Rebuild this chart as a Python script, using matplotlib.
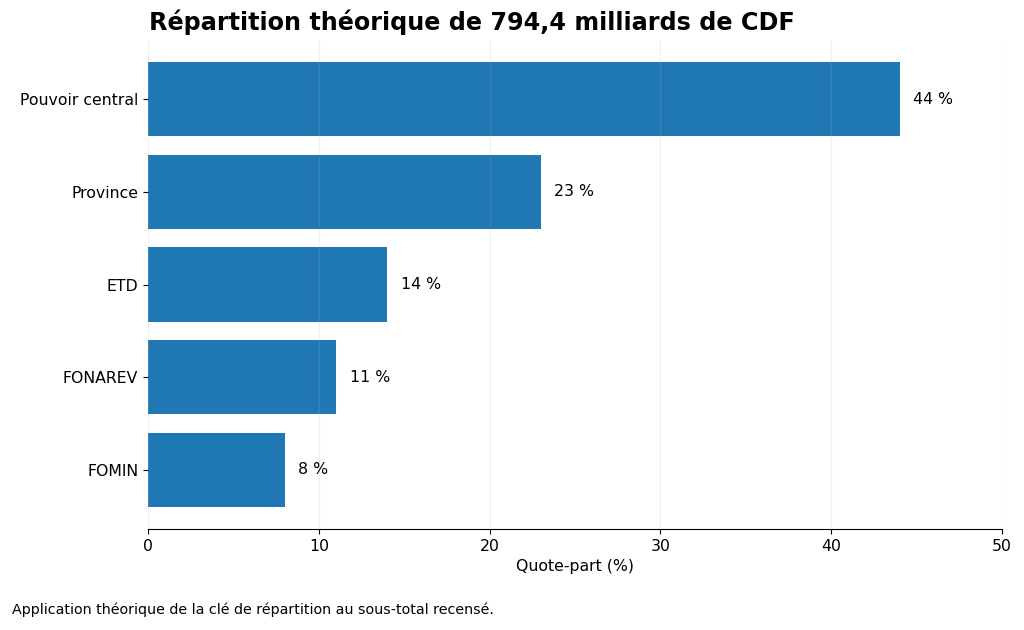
import matplotlib.pyplot as plt

#---Data
categories = ['Pouvoir central', 'Province', 'ETD', 'FONAREV', 'FOMIN']
shares = [44, 23, 14, 11, 8]

#---Plot
fig = plt.figure(figsize=(10.24, 6.3), dpi=100)
ax = fig.add_axes([0.1445, 0.1603, 0.834, 0.7762])

pos = list(range(len(categories)))[::-1]
ax.barh(pos, shares, height=0.8, color='#1f77b4')
for p, v in zip(pos, shares):
    ax.text(v + 0.8, p, f'{v} %', va='center', ha='left', fontsize=11.3)

ax.set_yticks(pos)
ax.set_yticklabels(categories, fontsize=11.3)
ax.set_xlim(0, 50)
ax.tick_params(axis='x', labelsize=11.3)
ax.set_xlabel('Quote-part (%)', fontsize=11.3)
ax.xaxis.grid(True, color='#b0b0b0', alpha=0.2, linewidth=0.9)
ax.set_axisbelow(False)
for s in ('top', 'right', 'left'):
    ax.spines[s].set_visible(False)

fig.text(0.1455, 0.965, 'Répartition théorique de 794,4 milliards de CDF',
         fontsize=17.2, fontweight='bold', ha='left', va='center')
fig.text(0.012, 0.032, 'Application théorique de la clé de répartition au sous-total recensé.',
         fontsize=10.3, ha='left', va='center')

fig.savefig('out.png', dpi=100)
